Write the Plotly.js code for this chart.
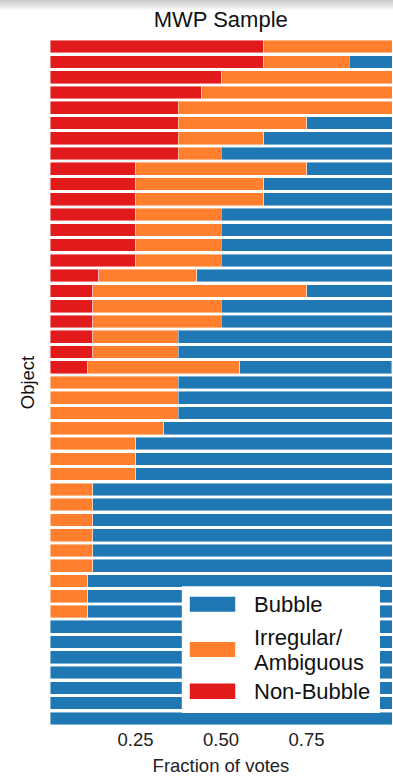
<!DOCTYPE html>
<html>
<head>
<meta charset="utf-8">
<script src="https://cdn.plot.ly/plotly-3.0.1.min.js"></script>
<style>
  html, body { margin: 0; padding: 0; background: #fff; }
  #chart { width: 393px; height: 777px; position: relative; }
  #topfade { position: absolute; left: 0; top: 0; width: 393px; height: 11px;
             background: linear-gradient(#c9c9c9, rgba(255,255,255,0)); pointer-events: none; }
</style>
</head>
<body>
<div id="chart"></div>
<div id="topfade"></div>
<script>
// Objects, listed from the top row of the chart to the bottom row
const objects = [1, 2, 3, 4, 5, 6, 7, 8, 9, 10, 11, 12, 13, 14, 15,
                 16, 17, 18, 19, 20, 21, 22, 23, 24, 25, 26, 27, 28, 29, 30,
                 31, 32, 33, 34, 35, 36, 37, 38, 39, 40, 41, 42, 43, 44, 45];

// Fraction of votes per class for each object
const nonBubble = [0.625, 0.625, 0.5, 0.444, 0.375, 0.375, 0.375, 0.375, 0.25, 0.25,
                   0.25, 0.25, 0.25, 0.25, 0.25, 0.143, 0.125, 0.125, 0.125, 0.125,
                   0.125, 0.111, 0, 0, 0, 0, 0, 0, 0, 0,
                   0, 0, 0, 0, 0, 0, 0, 0, 0, 0,
                   0, 0, 0, 0, 0];
const irregular = [0.375, 0.25, 0.5, 0.556, 0.625, 0.375, 0.25, 0.125, 0.5, 0.375,
                   0.375, 0.25, 0.25, 0.25, 0.25, 0.286, 0.625, 0.375, 0.375, 0.25,
                   0.25, 0.444, 0.375, 0.375, 0.375, 0.333, 0.25, 0.25, 0.25, 0.125,
                   0.125, 0.125, 0.125, 0.125, 0.125, 0.111, 0.111, 0.111, 0, 0,
                   0, 0, 0, 0, 0];
const bubble    = [0, 0.125, 0, 0, 0, 0.25, 0.375, 0.5, 0.25, 0.375,
                   0.375, 0.5, 0.5, 0.5, 0.5, 0.571, 0.25, 0.5, 0.5, 0.625,
                   0.625, 0.444, 0.625, 0.625, 0.625, 0.667, 0.75, 0.75, 0.75, 0.875,
                   0.875, 0.875, 0.875, 0.875, 0.875, 0.889, 0.889, 0.889, 1, 1,
                   1, 1, 1, 1, 1];

const classNames = ['Bubble', 'Irregular/<br>Ambiguous', 'Non-Bubble'];
const classColors = ['#1f78b4', '#ff7f2f', '#e31a1c'];
const xTicks = [0.25, 0.5, 0.75];
const xTickText = ['0.25', '0.50', '0.75'];

const FONT = 'Liberation Sans, Arial, Helvetica, sans-serif';
const W = 393, H = 777;
const M = { l: 49.5, r: 1, t: 38.5, b: 50.5 };

// pixel -> paper coordinate helpers for the hand-built legend
const px = x => (x - M.l) / (W - M.l - M.r);
const py = y => (H - M.b - y) / (H - M.t - M.b);

function barTrace(values, idx) {
  return {
    type: 'bar', orientation: 'h',
    x: values, y: objects,
    name: classNames[idx].replace('<br>', ' '),
    marker: { color: classColors[idx], line: { color: 'rgba(255,255,255,0.55)', width: 0.8 } },
    hoverinfo: 'x+name', showlegend: false
  };
}

// stacked from the left: Non-Bubble, then Irregular, then Bubble
const data = [barTrace(nonBubble, 2), barTrace(irregular, 1), barTrace(bubble, 0)];

// legend box with wide swatches
const shapes = [
  { type: 'rect', xref: 'paper', yref: 'paper', x0: px(181.5), x1: px(380), y0: py(713.5), y1: py(586.5),
    fillcolor: '#ffffff', line: { width: 0 }, layer: 'above' }
];
const swatchRows = [[597, 612], [642.5, 657.5], [684, 699.5]];
swatchRows.forEach((r, i) => {
  shapes.push({ type: 'rect', xref: 'paper', yref: 'paper', x0: px(189.5), x1: px(235),
    y0: py(r[1]), y1: py(r[0]), fillcolor: classColors[i], line: { width: 0 }, layer: 'above' });
});

const legendFont = { family: FONT, size: 22, color: '#111' };
const labelRows = [[classNames[0].split('<br>')[0], 604.5],
                   [classNames[1].split('<br>')[0], 638],
                   [classNames[1].split('<br>')[1], 663],
                   [classNames[2], 692]];
const annotations = labelRows.map(([t, y]) => ({
  xref: 'paper', yref: 'paper', x: px(252), y: py(y), xanchor: 'left', yanchor: 'middle',
  text: t, showarrow: false, font: legendFont
}));

const layout = {
  width: W, height: H,
  margin: M,
  paper_bgcolor: '#ffffff', plot_bgcolor: '#ffffff',
  barmode: 'stack', bargap: 0.17,
  title: { text: 'MWP Sample', x: (M.l + (W - M.r)) / 2 / W, xanchor: 'center',
           y: 1 - 19.5 / H, yanchor: 'middle', font: { family: FONT, size: 22, color: '#111' } },
  xaxis: {
    range: [0, 1], tickvals: xTicks, ticktext: xTickText,
    showgrid: false, zeroline: false, showline: false, ticks: '',
    tickfont: { family: FONT, size: 18.5, color: '#222' },
    title: { text: 'Fraction of votes', font: { family: FONT, size: 18.5, color: '#222' }, standoff: 10 }
  },
  yaxis: {
    range: [45.5, 0.5], showticklabels: false, showgrid: false, zeroline: false,
    showline: false, ticks: '',
    title: { text: 'Object', font: { family: FONT, size: 18.5, color: '#111' }, standoff: 9 }
  },
  shapes: shapes,
  annotations: annotations,
  showlegend: false
};

Plotly.newPlot('chart', data, layout, { displayModeBar: false, staticPlot: true });
</script>
</body>
</html>
